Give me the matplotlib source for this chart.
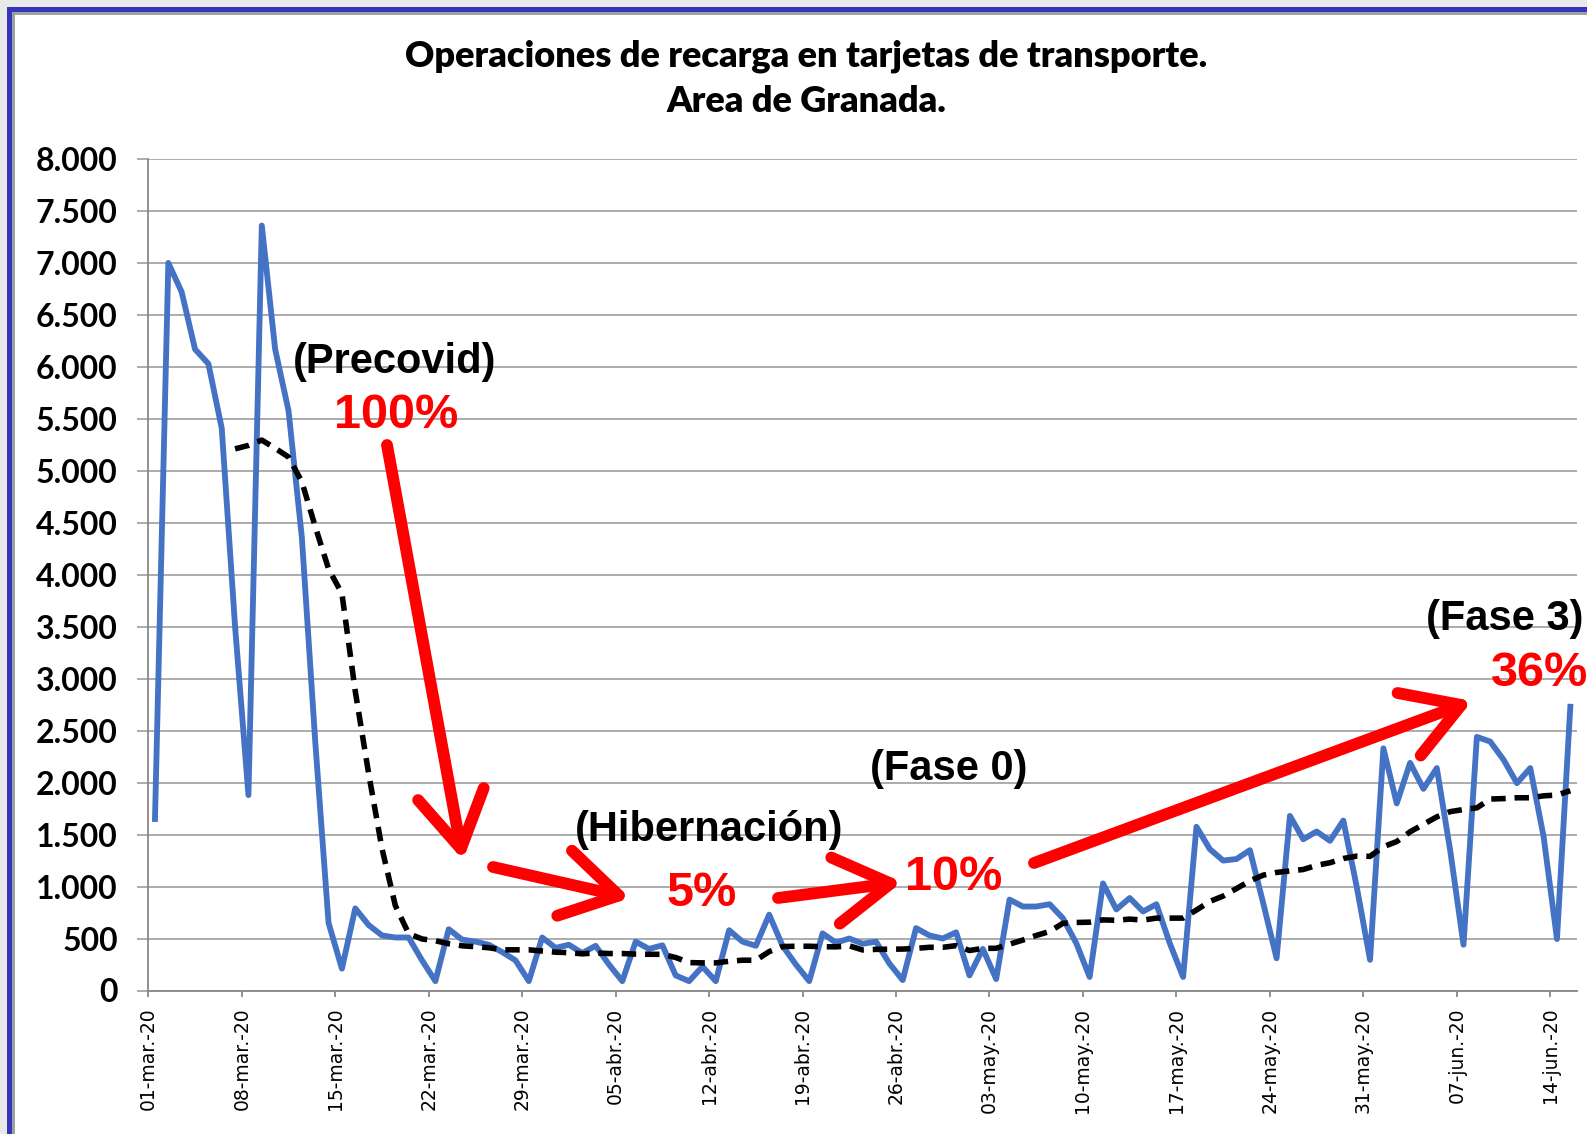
import matplotlib
matplotlib.use("Agg")
import matplotlib.pyplot as plt
from matplotlib.patches import Rectangle, FancyArrowPatch
import numpy as np
import pandas as pd

W, H = 1587, 1134

# daily top-up operations, 01-mar-20 .. 15-jun-20
recargas = [
    1650, 7000, 6720, 6170, 6030, 5410, 3500, 1880, 7360, 6170,
    5580, 4360, 2400, 650, 210, 790, 630, 530, 510, 510,
    290, 90, 590, 490, 470, 440, 370, 290, 90, 510,
    410, 440, 360, 430, 250, 90, 470, 400, 435, 145,
    90, 230, 90, 580, 470, 430, 730, 430, 250, 90,
    550, 460, 500, 450, 470, 260, 100, 600, 530, 500,
    560, 145, 400, 110, 875, 808, 808, 830, 695, 455,
    130, 1030, 780, 890, 760, 830, 455, 130, 1575, 1360,
    1250, 1265, 1350, 840, 310, 1680, 1455, 1530, 1440, 1635,
    1000, 295, 2330, 1800, 2190, 1940, 2140, 1350, 440, 2440,
    2395, 2220, 1995, 2140, 1480, 495, 2730,
]
tick_labels = [
    "01-mar.-20", "08-mar.-20", "15-mar.-20", "22-mar.-20", "29-mar.-20",
    "05-abr.-20", "12-abr.-20", "19-abr.-20", "26-abr.-20", "03-may.-20",
    "10-may.-20", "17-may.-20", "24-may.-20", "31-may.-20", "07-jun.-20",
    "14-jun.-20",
]
y_ticks = list(range(0, 8001, 500))

serie = pd.Series(recargas)
media_movil = serie.rolling(7).mean()  # Excel moving-average trendline, period 7
dias = np.arange(len(serie))


def fig_xy(x, y):
    # pixel (from top-left) -> figure fraction
    return x / W, 1 - y / H


fig = plt.figure(figsize=(W / 100, H / 100), dpi=100, facecolor="#e9e9e9")

# frame: white panel with blue border
fig.patches.append(Rectangle(fig_xy(12, H), 1, (H - 12) / H, transform=fig.transFigure,
                             facecolor="white", edgecolor="none", zorder=-3))
fig.patches.append(Rectangle(fig_xy(7, 12), 1, 5 / H, transform=fig.transFigure,
                             facecolor="#3535b8", edgecolor="none", zorder=-2))
fig.patches.append(Rectangle(fig_xy(7, H), 5 / W, (H - 7) / H, transform=fig.transFigure,
                             facecolor="#3535b8", edgecolor="none", zorder=-2))
fig.patches.append(Rectangle(fig_xy(12, 14.5), 1, 2.5 / H, transform=fig.transFigure,
                             facecolor="#a0a0a0", edgecolor="none", zorder=-2))
fig.patches.append(Rectangle(fig_xy(12, H), 2.5 / W, (H - 14) / H, transform=fig.transFigure,
                             facecolor="#a0a0a0", edgecolor="none", zorder=-2))

ax = fig.add_axes([148.3 / W, 1 - 990.5 / H, (1577 - 148.3) / W, (990.5 - 159) / H])
ax.set_facecolor("none")

ax.plot(dias, serie, color="#4472C4", lw=4.2, solid_joinstyle="round", zorder=3)
ax.plot(dias, media_movil, color="black", lw=4.0, linestyle=(0, (2.6, 1.6)), zorder=4)

ax.set_xlim(-0.5, len(serie) - 0.5)
ax.set_ylim(0, 8000)
ax.set_xticks(np.arange(len(tick_labels)) * 7 - 0.5)
ax.set_xticklabels(tick_labels, rotation=90, fontsize=13.5, family="DejaVu Sans")
ax.set_yticks(y_ticks)
ax.set_yticklabels([f"{v:,}".replace(",", ".") for v in y_ticks],
                   fontsize=23, fontweight="bold", family=["Lato", "DejaVu Sans"])
ax.grid(axis="y", color="#a6a6a6", lw=1.3)
ax.set_axisbelow(True)
ax.tick_params(axis="y", length=8, color="#a6a6a6", width=1.3, pad=14)
ax.tick_params(axis="x", length=4.5, color="#888888", width=1.3, pad=8)
for side in ["top", "right"]:
    ax.spines[side].set_visible(False)
ax.spines["left"].set_color("#888888")
ax.spines["bottom"].set_color("#888888")
ax.spines["left"].set_linewidth(1.3)
ax.spines["bottom"].set_linewidth(1.3)

# title
fig.text(*fig_xy(806, 56), "Operaciones de recarga en tarjetas de transporte.",
         ha="center", va="center", fontsize=26, fontweight="heavy", family="Lato")
fig.text(*fig_xy(806, 102), "Area de Granada.",
         ha="center", va="center", fontsize=26, fontweight="heavy", family="Lato")

# annotations
labels = [
    ("(Precovid)", 395, 362, "black", 30),
    ("100%", 396, 415, "red", 35),
    ("(Hibernación)", 709, 830, "black", 30),
    ("5%", 702, 893, "red", 35),
    ("(Fase 0)", 949, 769, "black", 30),
    ("10%", 954, 878, "red", 35),
    ("(Fase 3)", 1505, 619, "black", 30),
    ("36%", 1540, 673, "red", 35),
]
for txt, x, y, col, fs in labels:
    fig.text(*fig_xy(x, y), txt, ha="center", va="center", color=col,
             fontsize=fs, fontweight="bold", family="Liberation Sans")

arrows = [
    ((387, 445), (463, 860)),
    ((493, 867), (630, 898)),
    ((778, 898), (902, 882)),
    ((1034, 863), (1472, 701)),
]
for (x0, y0), (x1, y1) in arrows:
    fig.add_artist(FancyArrowPatch(
        fig_xy(x0, y0), fig_xy(x1, y1), transform=fig.transFigure,
        arrowstyle="->,head_length=2.0,head_width=1.2", mutation_scale=20,
        shrinkA=0, shrinkB=0,
        color="red", lw=8.5, capstyle="round", joinstyle="round", zorder=6))

fig.savefig("out.png", dpi=100, facecolor=fig.get_facecolor())
